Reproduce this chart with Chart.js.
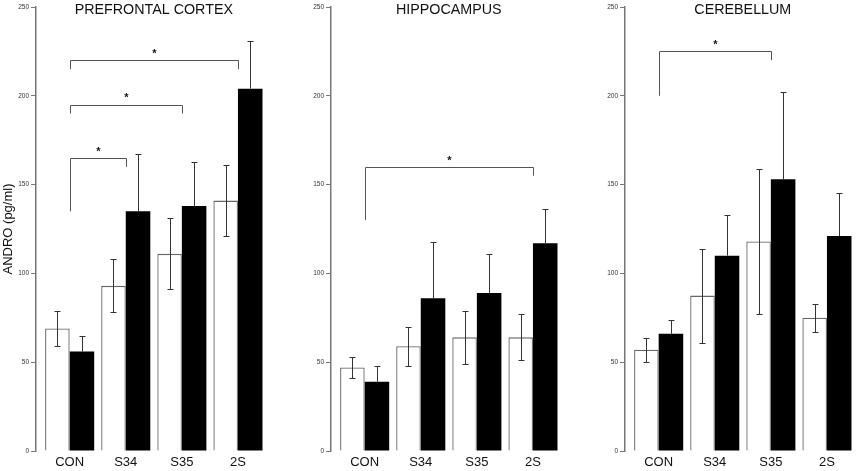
<!DOCTYPE html>
<html>
<head>
<meta charset="utf-8">
<script src="https://cdn.jsdelivr.net/npm/chart.js@4.4.1/dist/chart.umd.min.js"></script>
<style>
  html, body { margin: 0; padding: 0; background: #fff; }
  #wrap { position: relative; width: 856px; height: 471px; overflow: hidden; }
  #wrap canvas { position: absolute; top: 0; }
</style>
</head>
<body>
<div id="wrap">
  <canvas id="pfc" width="266" height="471" style="left:0px"></canvas>
  <canvas id="hip" width="266" height="471" style="left:295px"></canvas>
  <canvas id="cer" width="266" height="471" style="left:589px"></canvas>
</div>
<script>
const categories = ["CON", "S34", "S35", "2S"];
const yTicks = [0, 50, 100, 150, 200, 250];

// prefrontal cortex
const pfcWhite = [69, 93, 111, 141];
const pfcWhiteErr = [10, 15, 20, 20];
const pfcBlack = [56, 135, 138, 204];
const pfcBlackErr = [9, 32, 25, 27];
// [from, to, top, left leg end, right leg end]
const pfcBrackets = [[0, 1, 165, 135, 160], [0, 2, 195, 190, 190], [0, 3, 220, 215, 215]];

// hippocampus
const hipWhite = [47, 59, 64, 64];
const hipWhiteErr = [6, 11, 15, 13];
const hipBlack = [39, 86, 89, 117];
const hipBlackErr = [9, 31.5, 22, 19];
const hipBrackets = [[0, 3, 160, 130, 155]];

// cerebellum
const cerWhite = [57, 87.5, 118, 75];
const cerWhiteErr = [6.7, 26.5, 41, 8];
const cerBlack = [66, 110, 153, 121];
const cerBlackErr = [8, 23, 49, 24.5];
const cerBrackets = [[0, 2, 225, 200, 220]];

const FONT = '"Liberation Sans", Arial, sans-serif';

// error bars, significance brackets and panel title
const annotate = {
  id: "annotate",
  afterDatasetsDraw(chart) {
    const { ctx } = chart;
    const x = chart.scales.x, y = chart.scales.y;
    const cfg = chart.options.plugins.annotate;
    ctx.save();
    ctx.lineWidth = 1;
    ctx.strokeStyle = "#333";

    chart.data.datasets.forEach((ds, di) => {
      const meta = chart.getDatasetMeta(di);
      meta.data.forEach((bar, i) => {
        const v = ds.data[i].y, e = ds.errors[i];
        const cx = Math.round(bar.x) + 0.5;
        const top = Math.round(y.getPixelForValue(v + e)) + 0.5;
        const bot = ds.upOnly ? bar.y : Math.round(y.getPixelForValue(v - e)) + 0.5;
        ctx.beginPath();
        ctx.moveTo(cx, top); ctx.lineTo(cx, bot);
        ctx.moveTo(cx - 3, top); ctx.lineTo(cx + 3, top);
        if (!ds.upOnly) { ctx.moveTo(cx - 3, bot); ctx.lineTo(cx + 3, bot); }
        ctx.stroke();
      });
    });

    ctx.strokeStyle = "#555";
    ctx.fillStyle = "#111";
    ctx.font = "bold 11px " + FONT;
    ctx.textAlign = "center";
    ctx.textBaseline = "middle";
    cfg.brackets.forEach(([a, b, top, l, r]) => {
      const xa = Math.round(x.getPixelForValue(a)) + 0.5;
      const xb = Math.round(x.getPixelForValue(b)) + 0.5;
      const yt = Math.round(y.getPixelForValue(top)) + 0.5;
      ctx.beginPath();
      ctx.moveTo(xa, y.getPixelForValue(l));
      ctx.lineTo(xa, yt);
      ctx.lineTo(xb, yt);
      ctx.lineTo(xb, y.getPixelForValue(r));
      ctx.stroke();
      ctx.fillText("*", (xa + xb) / 2, y.getPixelForValue(top + 3.5));
    });

    ctx.font = "14.3px " + FONT;
    ctx.fillText(cfg.title, (x.getPixelForValue(0) + x.getPixelForValue(categories.length - 1)) / 2, 10);
    ctx.restore();
  }
};

function makePanel(id, title, white, whiteErr, black, blackErr, brackets, yTitle) {
  new Chart(document.getElementById(id), {
    type: "bar",
    data: {
      datasets: [
        {
          data: white.map((v, i) => ({ x: i, y: v })),
          errors: whiteErr,
          backgroundColor: "#fff",
          borderColor: "#666",
          borderWidth: 1.3,
        },
        {
          data: black.map((v, i) => ({ x: i, y: v })),
          errors: blackErr,
          upOnly: true,
          backgroundColor: "#000",
          borderColor: "#000",
          borderWidth: 0,
        },
      ],
    },
    options: {
      responsive: false,
      animation: false,
      devicePixelRatio: 1,
      layout: { padding: { top: 7, right: 0, bottom: 0, left: 0 } },
      datasets: { bar: { categoryPercentage: 0.875, barPercentage: 1 } },
      scales: {
        x: {
          type: "linear",
          offset: false,
          min: -0.6,
          max: 3.5,
          grid: { display: false, offset: false },
          border: { display: false },
          afterBuildTicks: (s) => { s.ticks = categories.map((c, i) => ({ value: i })); },
          afterFit: (s) => { s.height = 20; },
          ticks: {
            callback: (v) => categories[v],
            color: "#111",
            padding: -4,
            maxRotation: 0,
            font: { family: FONT, size: 13 },
          },
        },
        y: {
          min: 0,
          max: 250,
          afterBuildTicks: (s) => { s.ticks = yTicks.map((v) => ({ value: v })); },
          afterFit: (s) => { s.width = 36; },
          grid: { drawOnChartArea: false, drawTicks: true, tickLength: 5, color: "#777", lineWidth: 1 },
          border: { display: true, color: "#777", width: 1.5 },
          ticks: { color: "#333", padding: 2, font: { family: FONT, size: 6.5 } },
          title: {
            display: !!yTitle,
            text: yTitle || "",
            color: "#111",
            padding: { top: 1, bottom: 0 },
            font: { family: FONT, size: 13 },
          },
        },
      },
      plugins: {
        legend: { display: false },
        tooltip: { enabled: false },
        annotate: { title: title, brackets: brackets },
      },
    },
    plugins: [annotate],
  });
}

makePanel("pfc", "PREFRONTAL CORTEX", pfcWhite, pfcWhiteErr, pfcBlack, pfcBlackErr, pfcBrackets, "ANDRO (pg/ml)");
makePanel("hip", "HIPPOCAMPUS", hipWhite, hipWhiteErr, hipBlack, hipBlackErr, hipBrackets);
makePanel("cer", "CEREBELLUM", cerWhite, cerWhiteErr, cerBlack, cerBlackErr, cerBrackets);
</script>
</body>
</html>
